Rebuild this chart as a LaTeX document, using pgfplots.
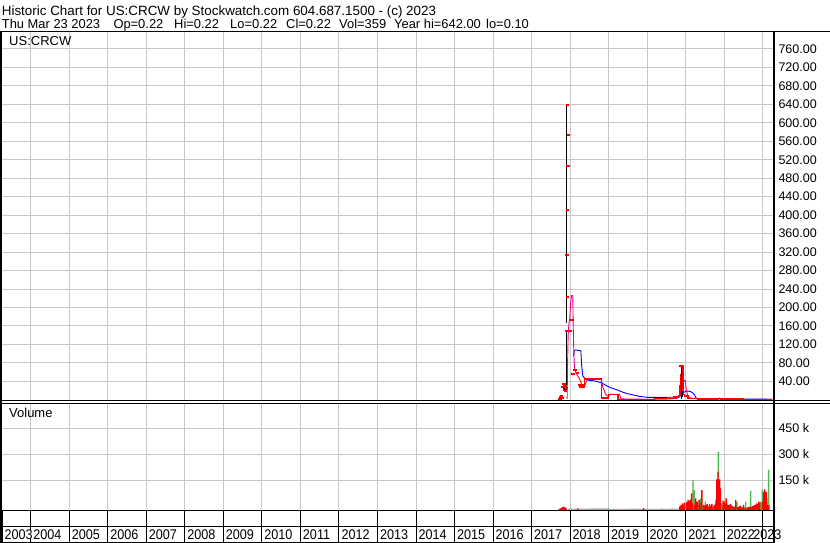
\documentclass[border=0pt]{standalone}
\usepackage{fontspec}
\setmainfont{Liberation Sans}
\usepackage{pgfplots}
\pgfplotsset{compat=1.18}
\definecolor{gridc}{RGB}{200,200,200}
\definecolor{volgreen}{RGB}{76,187,76}
\definecolor{volgray}{RGB}{170,170,170}
\newcommand{\yl}[1]{\scalebox{0.9}[1]{#1}}
\begin{document}
\begin{tikzpicture}[x=1pt,y=1pt]
\path[use as bounding box] (0,0) rectangle (830,543);
\fill[white] (0,0) rectangle (830,543);

% ---------------- price panel ----------------
\begin{axis}[
  at={(2pt,142.3pt)}, anchor=south west, scale only axis,
  width=771.3pt, height=368.7pt,
  xmin=2003.255, xmax=2023.275, ymin=-1.95, ymax=796.7,
  axis line style={draw=none},
  xtick={2004,2005,2006,2007,2008,2009,2010,2011,2012,2013,2014,2015,2016,2017,2018,2019,2020,2021,2022,2023},
  xticklabels={},
  ytick={40,80,...,760},
  ytick pos=right, yticklabel pos=right,
  major tick length=0pt,
  xmajorgrids, ymajorgrids,
  grid style={gridc, line width=0.9pt},
  yticklabel style={anchor=west, inner sep=0pt, xshift=5pt, font=\fontsize{12.5}{12.5}\selectfont},
  /pgf/number format/fixed, /pgf/number format/fixed zerofill,
  /pgf/number format/precision=2, /pgf/number format/assume math mode=true,
]
% long moving average (blue)
\addplot[blue, line width=0.9pt] coordinates {
(2018.09,95) (2018.11,106) (2018.14,108) (2018.28,106) (2018.30,75) (2018.33,52) (2018.40,44)
(2018.50,42) (2018.63,41) (2018.81,37) (2018.94,31) (2019.03,27) (2019.20,22) (2019.35,17)
(2019.50,13) (2019.64,10.5) (2019.80,7.5) (2020.00,5.4) (2020.50,5.4) (2020.80,5.5) (2020.88,9)
(2020.94,16) (2021.00,18) (2021.07,19) (2021.15,17) (2021.22,12) (2021.27,4) (2021.29,3)
(2021.60,2.5) (2022.00,2.2) (2022.60,1.6) (2023.25,1.2)};
% short moving average (magenta)
\addplot[magenta, line width=0.9pt] coordinates {
(2017.925,2) (2017.93,55) (2017.95,140) (2017.97,165) (2017.99,175) (2018.02,215) (2018.04,226)
(2018.07,226) (2018.08,165) (2018.10,93) (2018.12,64) (2018.16,57) (2018.24,46) (2018.29,36)
(2018.33,26) (2018.37,28) (2018.42,39) (2018.46,44) (2018.81,44) (2018.85,28) (2018.92,12)
(2018.99,7) (2019.04,12) (2019.28,12) (2019.32,2) (2019.60,1.5) (2020.00,1.2) (2020.50,1.5)
(2020.77,3) (2020.84,6) (2020.91,20) (2020.95,41) (2020.99,42) (2021.02,20) (2021.06,7)
(2021.14,3.5) (2021.36,1.5) (2021.80,1.8) (2021.88,3.5) (2021.95,1.5) (2022.50,1.2) (2023.25,0.8)};
% close (red)
\addplot[red, line width=1.3pt, const plot] coordinates {
(2018.24,28) (2018.37,45) (2018.81,3) (2018.99,12) (2019.24,1.2) (2019.45,0.6) (2019.90,0.8)
(2020.20,2.5) (2020.50,3.5) (2020.70,6) (2020.82,10) (2020.85,30) (2020.87,55) (2020.885,74)
(2020.93,12) (2020.97,8) (2021.06,3) (2021.30,1.5) (2021.86,3) (2021.92,1.5) (2022.50,1)
(2023.00,0.5) (2023.25,0.5)};
% high-low bars (black)
\addplot[black, line width=1pt, unbounded coords=jump] coordinates {
(2017.830,20) (2017.830,36) (2017.84,nan)
(2017.855,17) (2017.855,30) (2017.86,nan)
(2017.875,22) (2017.875,37) (2017.88,nan)
(2017.905,18) (2017.905,148) (2017.91,nan)
(2017.913,167) (2017.913,639) (2017.92,nan)
(2020.888,2) (2020.888,75) (2020.89,nan)
(2020.910,5) (2020.910,20) (2020.92,nan)
(2021.886,1) (2021.886,4)};
% close marks (red)
\addplot[red, only marks, mark=-, mark size=1.7pt, mark options={line width=2pt}] coordinates {
(2017.74,2) (2017.76,5) (2017.78,8) (2017.80,4) (2017.82,27) (2017.84,35) (2017.85,22)
(2017.87,30) (2017.88,18) (2017.90,25) (2017.913,150) (2017.94,223) (2017.92,313) (2017.93,412)
(2017.948,507) (2017.965,573) (2017.93,638) (2018.017,150) (2018.04,173) (2018.06,173)
(2018.078,55) (2018.13,65) (2018.20,57) (2018.24,31) (2018.28,31) (2018.32,31)
(2018.45,45) (2018.60,45) (2018.75,45) (2018.86,3) (2018.95,3) (2020.87,74) (2020.90,74)};
\end{axis}

% ---------------- volume panel ----------------
\begin{axis}[
  at={(2pt,33pt)}, anchor=south west, scale only axis,
  width=771.3pt, height=106.7pt,
  xmin=2003.255, xmax=2023.275, ymin=0, ymax=615.6,
  axis line style={draw=none},
  xtick={2004,2005,2006,2007,2008,2009,2010,2011,2012,2013,2014,2015,2016,2017,2018,2019,2020,2021,2022,2023},
  xticklabels={},
  ytick={171.3,321.3,471.3}, yticklabels={150 k,300 k,450 k},
  ytick pos=right, yticklabel pos=right,
  major tick length=0pt,
  xmajorgrids, ymajorgrids,
  grid style={gridc, line width=0.9pt},
  yticklabel style={anchor=west, inner sep=0pt, xshift=5pt, font=\fontsize{12.5}{12.5}\selectfont},
]
\addplot[fill=volgray, draw=none, const plot] coordinates {
(2017.95,8) (2018.50,9) (2019.00,7) (2019.50,8) (2020.00,7) (2020.50,8) (2020.85,8) (2020.86,0)} \closedcycle;
\addplot[ybar, bar width=1.4pt, bar shift=0pt, fill=volgreen, draw=none] coordinates {
(2019.00,8) (2020.38,8)
(2020.90,15) (2020.95,25) (2021.04,30) (2021.12,40) (2021.28,20) (2021.33,30) (2021.45,25)
(2021.54,20) (2021.59,15) (2021.65,20) (2021.78,40) (2021.87,100) (2021.95,30) (2022.03,25)
(2022.11,20) (2022.19,15) (2022.28,20) (2022.36,12) (2022.46,15) (2022.53,20) (2022.64,15)
(2022.76,20) (2022.87,30) (2023.07,60) (2023.14,45) (2023.17,30)
(2021.01,38) (2021.19,173) (2021.22,115) (2021.39,67) (2021.51,48) (2021.72,19) (2021.74,29)
(2021.85,336) (2021.93,38) (2022.08,38) (2022.22,23) (2022.33,48) (2022.56,48) (2022.69,110)
(2022.94,48) (2022.97,42) (2022.99,115) (2023.155,231)};
\addplot[ybar, bar width=1.4pt, bar shift=0pt, fill=red, draw=none] coordinates {
(2017.72,6) (2017.75,10) (2017.78,13) (2017.81,16) (2017.84,19) (2017.87,14) (2017.90,10)
(2018.20,10) (2019.91,9)
(2020.94,25) (2021.03,45) (2021.13,60) (2021.17,40) (2021.24,30) (2021.37,40) (2021.49,25)
(2021.53,30) (2021.60,20) (2021.66,25) (2021.70,18) (2021.76,30) (2021.79,60) (2021.99,40)
(2022.02,35) (2022.09,30) (2022.15,20) (2022.20,25) (2022.27,15) (2022.35,18) (2022.41,25)
(2022.48,15) (2022.55,12) (2022.63,18) (2022.67,20) (2022.70,15) (2022.77,25) (2022.82,30)
(2022.88,35) (2022.92,40) (2023.00,45) (2023.10,70) (2023.15,25)
(2020.85,21) (2020.88,29) (2020.92,38) (2020.97,42) (2021.06,58) (2021.09,54) (2021.155,96)
(2021.26,67) (2021.30,48) (2021.35,58) (2021.42,115) (2021.47,29) (2021.56,35) (2021.62,35)
(2021.68,35) (2021.81,177) (2021.84,221) (2021.88,177) (2021.905,125) (2021.97,54) (2022.00,48)
(2022.05,67) (2022.13,29) (2022.17,35) (2022.25,19) (2022.30,58) (2022.39,19) (2022.43,23)
(2022.50,29) (2022.60,15) (2022.73,23) (2022.79,29) (2022.84,38) (2022.90,48) (2023.02,105)
(2023.05,119) (2023.09,105) (2023.12,29)};
\end{axis}

% ---------------- year row ----------------
\begin{axis}[
  at={(2pt,0pt)}, anchor=south west, scale only axis,
  width=771.3pt, height=33pt,
  xmin=2003.255, xmax=2023.275, ymin=0, ymax=1,
  axis line style={draw=none},
  xtick={2003.255,2004,2005,2006,2007,2008,2009,2010,2011,2012,2013,2014,2015,2016,2017,2018,2019,2020,2021,2022,2023},
  xticklabels={\yl{2003},\yl{2004},\yl{2005},\yl{2006},\yl{2007},\yl{2008},\yl{2009},\yl{2010},\yl{2011},\yl{2012},\yl{2013},\yl{2014},\yl{2015},\yl{2016},\yl{2017},\yl{2018},\yl{2019},\yl{2020},\yl{2021},\yl{2022},{\hspace*{-12pt}\yl{2023}}},
  ytick=\empty,
  major tick length=0pt,
  xmajorgrids,
  grid style={black, line width=0.9pt},
  xticklabel style={anchor=base west, inner sep=0pt, xshift=2.4pt, yshift=3.7pt, fill=white,
    font=\fontsize{14}{14}\selectfont},
]
\end{axis}

% ---------------- frame lines ----------------
\draw[black, line width=1.5pt] (0,511.3) -- (830,511.3);
\draw[black, line width=0.9pt] (0,142.3) -- (830,142.3);
\draw[black, line width=0.9pt] (0,139.7) -- (830,139.7);
\draw[black, line width=0.9pt] (0,33) -- (774,33);
\draw[black, line width=0.9pt] (0,16.3) -- (774,16.3);
\draw[black, line width=0.9pt] (0,0.8) -- (774,0.8);
\draw[black, line width=2pt] (1,0) -- (1,511.3);
\draw[black, line width=1.8pt] (774,0) -- (774,511.3);

% ---------------- texts ----------------
\node[anchor=base west, inner sep=0pt, font=\fontsize{13.4}{13.4}\selectfont] at (1.7,527.3)
  {Historic Chart for US:CRCW by Stockwatch.com 604.687.1500 - (c) 2023};
\begin{scope}[every node/.style={anchor=base west, inner sep=0pt, font=\fontsize{12.9}{12.9}\selectfont}]
\node at (1.7,514.3) {Thu Mar 23 2023};
\node at (113.3,514.3) {Op=0.22};
\node at (174,514.3) {Hi=0.22};
\node at (230,514.3) {Lo=0.22};
\node at (286,514.3) {Cl=0.22};
\node at (339,514.3) {Vol=359};
\node at (394,514.3) {Year hi=642.00};
\node at (486,514.3) {lo=0.10};
\end{scope}
\node[anchor=base west, inner sep=0pt, font=\fontsize{13}{13}\selectfont] at (9,497.3) {US:CRCW};
\node[anchor=base west, inner sep=0pt, font=\fontsize{13}{13}\selectfont] at (9,125.7) {Volume};
\end{tikzpicture}
\end{document}
